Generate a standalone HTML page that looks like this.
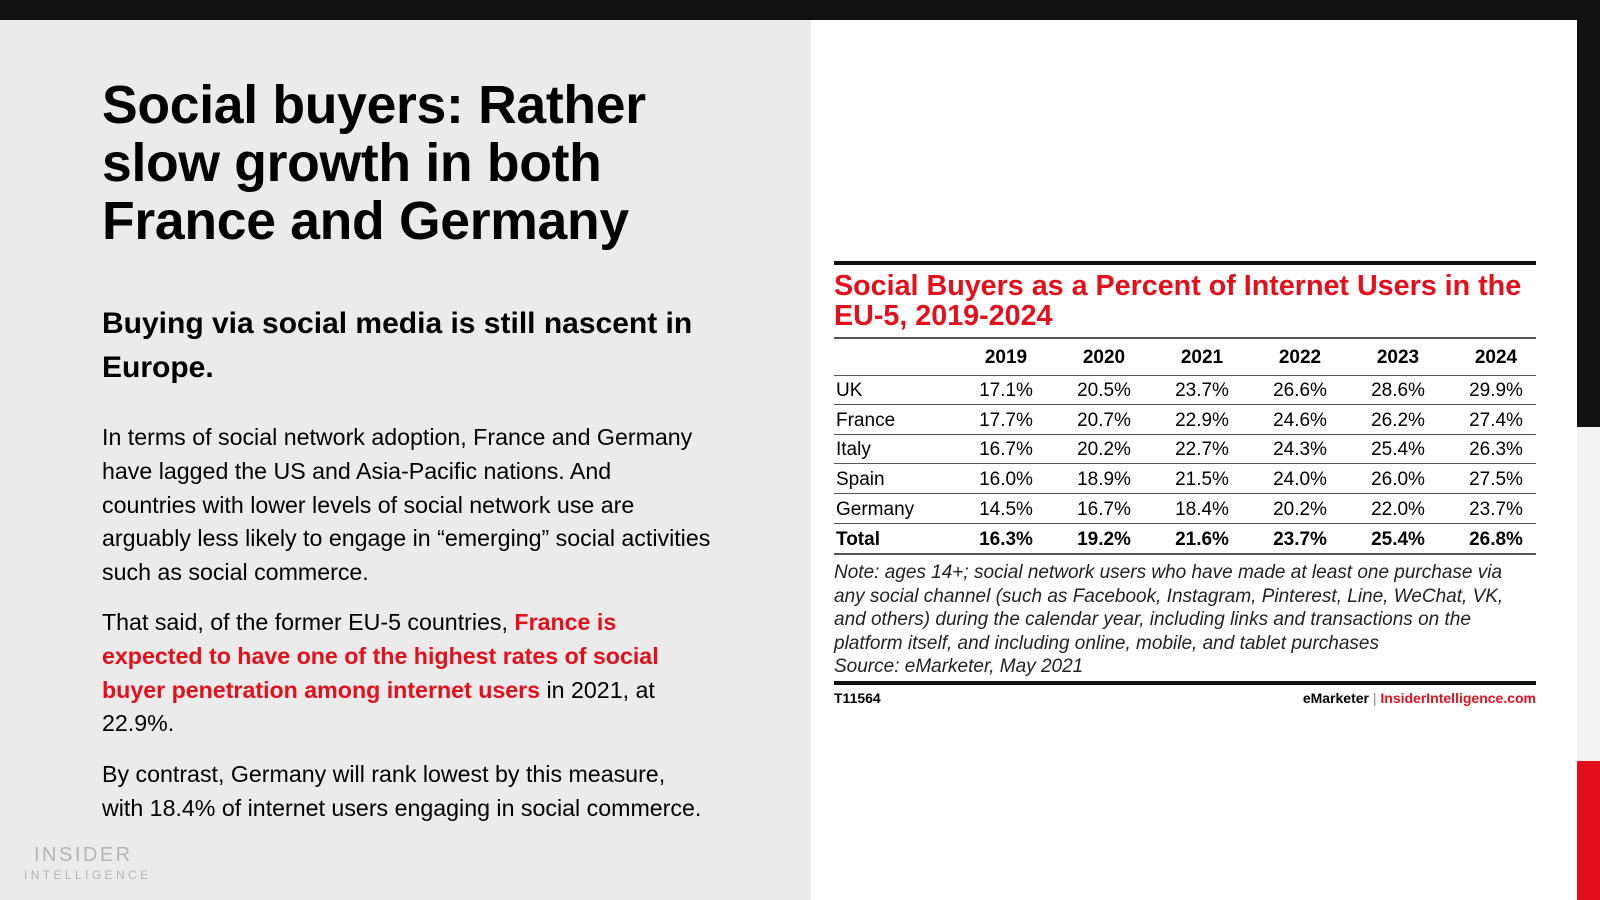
<!DOCTYPE html>
<html><head><meta charset="utf-8"><style>
*{margin:0;padding:0;box-sizing:border-box}
body{width:1600px;height:900px;position:relative;overflow:hidden;background:#ebebeb;font-family:"Liberation Sans",Arial,sans-serif;color:#000}
.a{position:absolute}
h1{position:absolute;left:102px;top:77px;font-size:53.5px;line-height:58px;font-weight:bold;letter-spacing:-0.3px}
.sub{left:102px;top:302px;font-size:30px;line-height:44px;font-weight:bold;width:640px}
.body{left:102px;font-size:23.2px;line-height:33.8px;white-space:nowrap}
.red{color:#e3101b;font-weight:bold}
.t{position:absolute;font-size:19px;text-align:center;width:90px}
.rowl{position:absolute;left:834px;width:702px;height:1px;background:#555}
</style></head><body>
<div class="a" style="left:0;top:0;width:1600px;height:20px;background:#111"></div>
<div class="a" style="left:811px;top:20px;width:766px;height:880px;background:#fff"></div>
<div class="a" style="left:1577px;top:20px;width:23px;height:407px;background:#111"></div>
<div class="a" style="left:1577px;top:427px;width:23px;height:334px;background:#f2f2f2"></div>
<div class="a" style="left:1577px;top:761px;width:23px;height:139px;background:#e3101b"></div>

<h1>Social buyers: Rather<br>slow growth in both<br>France and Germany</h1>
<div class="a sub">Buying via social media is still nascent in<br>Europe.</div>
<div class="a body" style="top:421px">In terms of social network adoption, France and Germany<br>have lagged the US and Asia-Pacific nations. And<br>countries with lower levels of social network use are<br>arguably less likely to engage in “emerging” social activities<br>such as social commerce.</div>
<div class="a body" style="top:606px">That said, of the former EU-5 countries, <span class="red">France is<br>expected to have one of the highest rates of social<br>buyer penetration among internet users</span> in 2021, at<br>22.9%.</div>
<div class="a body" style="top:758px">By contrast, Germany will rank lowest by this measure,<br>with 18.4% of internet users engaging in social commerce.</div>
<div class="a" style="left:34px;top:844px;font-size:20px;letter-spacing:2.5px;color:#b4b4b4">INSIDER</div>
<div class="a" style="left:24px;top:868px;font-size:12px;letter-spacing:3.4px;color:#b4b4b4">INTELLIGENCE</div>

<div class="a" style="left:834px;top:261px;width:702px;height:4px;background:#111"></div>
<div class="a" style="left:834px;top:271px;font-size:28.7px;line-height:30px;font-weight:bold;color:#e3101b;width:710px">Social Buyers as a Percent of Internet Users in the EU-5, 2019-2024</div>
<div class="a" style="left:834px;top:337px;width:702px;height:2px;background:#555"></div>
<div class="rowl" style="top:375px"></div>
<div class="rowl" style="top:404px"></div>
<div class="rowl" style="top:434px"></div>
<div class="rowl" style="top:463px"></div>
<div class="rowl" style="top:493px"></div>
<div class="rowl" style="top:523px"></div>
<div class="a" style="left:834px;top:553px;width:702px;height:2px;background:#555"></div>
<div id="tbl"></div>
<div class="a" style="left:834px;top:561px;font-size:19px;line-height:23.6px;font-style:italic;color:#222;width:690px">Note: ages 14+; social network users who have made at least one purchase via any social channel (such as Facebook, Instagram, Pinterest, Line, WeChat, VK, and others) during the calendar year, including links and transactions on the platform itself, and including online, mobile, and tablet purchases<br>Source: eMarketer, May 2021</div>
<div class="a" style="left:834px;top:681px;width:702px;height:4px;background:#111"></div>
<div class="a" style="left:834px;top:690px;font-size:14px;font-weight:bold">T11564</div>
<div class="a" style="left:1000px;top:690px;width:536px;text-align:right;font-size:14px;font-weight:bold">eMarketer <span style="color:#888;font-weight:normal">|</span> <span style="color:#e3101b">InsiderIntelligence.com</span></div>
<script>
var d=[["",["2019","2020","2021","2022","2023","2024"],1],
["UK",["17.1%","20.5%","23.7%","26.6%","28.6%","29.9%"]],
["France",["17.7%","20.7%","22.9%","24.6%","26.2%","27.4%"]],
["Italy",["16.7%","20.2%","22.7%","24.3%","25.4%","26.3%"]],
["Spain",["16.0%","18.9%","21.5%","24.0%","26.0%","27.5%"]],
["Germany",["14.5%","16.7%","18.4%","20.2%","22.0%","23.7%"]],
["Total",["16.3%","19.2%","21.6%","23.7%","25.4%","26.8%"],1]];
var ys=[359,392,422,451,481,511,541],xs=[1006,1104,1202,1300,1398,1496],h="";
d.forEach(function(r,i){var y=ys[i]-12,b=r[2]?"font-weight:bold;":"";
h+='<div class="t" style="'+b+'left:836px;top:'+y+'px;text-align:left;width:120px">'+r[0]+'</div>';
r[1].forEach(function(v,j){h+='<div class="t" style="'+b+'left:'+(xs[j]-45)+'px;top:'+y+'px">'+v+'</div>';});});
document.getElementById("tbl").innerHTML=h;
</script>
</body></html>
